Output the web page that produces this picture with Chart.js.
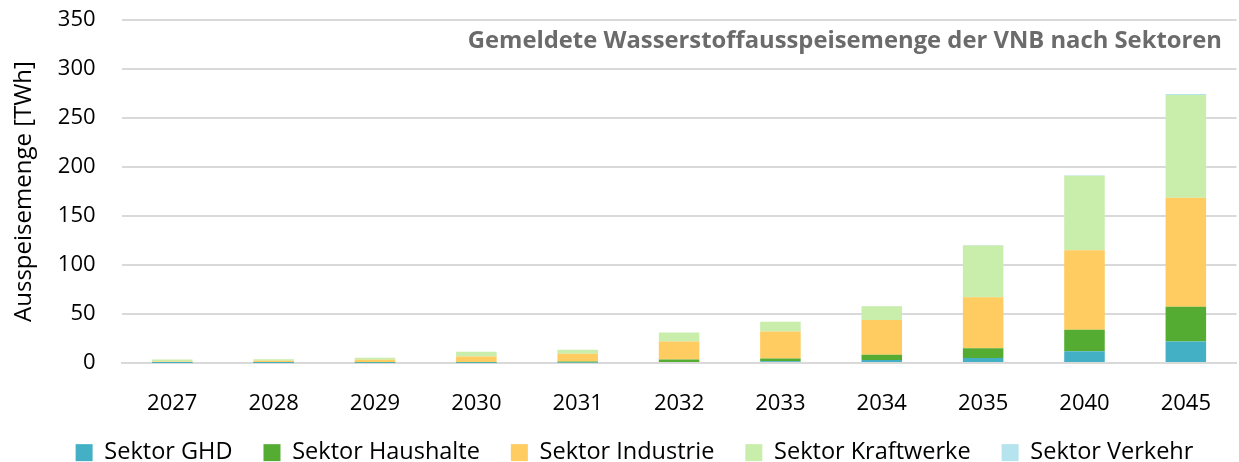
<!DOCTYPE html>
<html><head><meta charset="utf-8">
<script src="https://cdn.jsdelivr.net/npm/chart.js@4/dist/chart.umd.min.js"></script>
<style>html,body{margin:0;padding:0;background:#fff}#wrap{width:1239px;height:462px;position:relative}</style>
</head><body><div id="wrap"><canvas id="c" width="1239" height="462"></canvas></div>
<script>
const categories = ['2027','2028','2029','2030','2031','2032','2033','2034','2035','2040','2045'];
const ghd        = [0.1, 0.1, 0.2, 0.3, 0.5, 1.0, 1.7, 3.0, 5.0, 12.0, 22.0];
const haushalte  = [0.5, 0.6, 0.7, 0.8, 1.0, 2.5, 3.0, 5.5, 10.0, 22.0, 35.5];
const industrie  = [1.0, 1.5, 2.5, 5.5, 8.0, 18.5, 27.5, 35.5, 52.0, 81.0, 111.0];
const kraftwerke = [2.0, 1.5, 2.0, 5.0, 4.0, 9.0, 10.0, 14.0, 53.0, 76.0, 105.0];
const verkehr    = [0.0, 0.0, 0.0, 0.0, 0.0, 0.0, 0.0, 0.2, 0.3, 0.5, 1.0];
const seriesNames = ['Sektor GHD','Sektor Haushalte','Sektor Industrie','Sektor Kraftwerke','Sektor Verkehr'];
const yTicks = [0,50,100,150,200,250,300,350];
const titleText = 'Gemeldete Wasserstoffausspeisemenge der VNB nach Sektoren';

const FONT = '"Open Sans", sans-serif';
const colors = ['#43b0c6','#55ac33','#fecc61','#c9eeac','#b5e3ee'];
const values = [ghd, haushalte, industrie, kraftwerke, verkehr];

const innerTitle = {
  id: 'innerTitle',
  afterDraw(chart) {
    const {ctx} = chart;
    ctx.save();
    ctx.font = 'bold 23.8px ' + FONT;
    ctx.fillStyle = '#6b6b6b';
    ctx.textAlign = 'right';
    ctx.textBaseline = 'middle';
    ctx.fillText(titleText, 1222, 41);
    ctx.restore();
  }
};

const LEGEND_TEXT_Y = 455;
const LEGEND_DX = 15;
const legendPlace = {
  id: 'legendPlace',
  beforeInit(chart) {
    const lg = chart.legend;
    const origDraw = lg.draw;
    lg.draw = function () {
      const lo = this.options.labels;
      const itemH = Math.max(lo.boxHeight || 0, lo.font.size * 1.2);
      const t = this.top, b = this.bottom;
      this.top = LEGEND_TEXT_Y - lo.padding - itemH / 2;
      this.bottom = chart.height;
      this.ctx.save();
      this.ctx.translate(LEGEND_DX, 0);
      origDraw.apply(this, arguments);
      this.ctx.restore();
      this.top = t; this.bottom = b;
    };
  }
};

new Chart(document.getElementById('c'), {
  type: 'bar',
  data: {
    labels: categories,
    datasets: values.map((v, i) => ({
      label: seriesNames[i],
      data: v,
      backgroundColor: colors[i],
      borderWidth: 0,
      barPercentage: 0.4,
      categoryPercentage: 1.0
    }))
  },
  options: {
    responsive: false,
    animation: false,
    layout: { padding: { top: 20, right: 0, left: 0, bottom: 0 } },
    plugins: {
      legend: {
        position: 'bottom',
        maxHeight: 43,
        labels: {
          font: { family: FONT, size: 23.5 },
          color: '#000',
          boxWidth: 17, boxHeight: 17,
          padding: 31
        }
      },
      tooltip: { enabled: false },
      title: { display: false }
    },
    scales: {
      x: {
        stacked: true,
        grid: { display: false, drawTicks: false },
        border: { display: true, color: '#d9d9d9', width: 2 },
        ticks: { font: { family: FONT, size: 22 }, color: '#000', padding: 28 },
        afterFit(s) { s.height = 56; }
      },
      y: {
        stacked: true,
        min: 0, max: 350,
        afterBuildTicks(axis) { axis.ticks = yTicks.map(v => ({ value: v })); },
        grid: { color: '#d9d9d9', lineWidth: 2, drawTicks: false },
        border: { display: false },
        ticks: { font: { family: FONT, size: 22 }, color: '#000', padding: 26 },
        title: { display: true, text: 'Ausspeisemenge [TWh]', font: { family: FONT, size: 24 }, color: '#000', padding: { top: 10, bottom: 0 } },
        afterFit(s) { s.width = 121.6; s.paddingTop = 0; s.paddingBottom = 0; }
      }
    }
  },
  plugins: [innerTitle, legendPlace]
});
</script></body></html>
